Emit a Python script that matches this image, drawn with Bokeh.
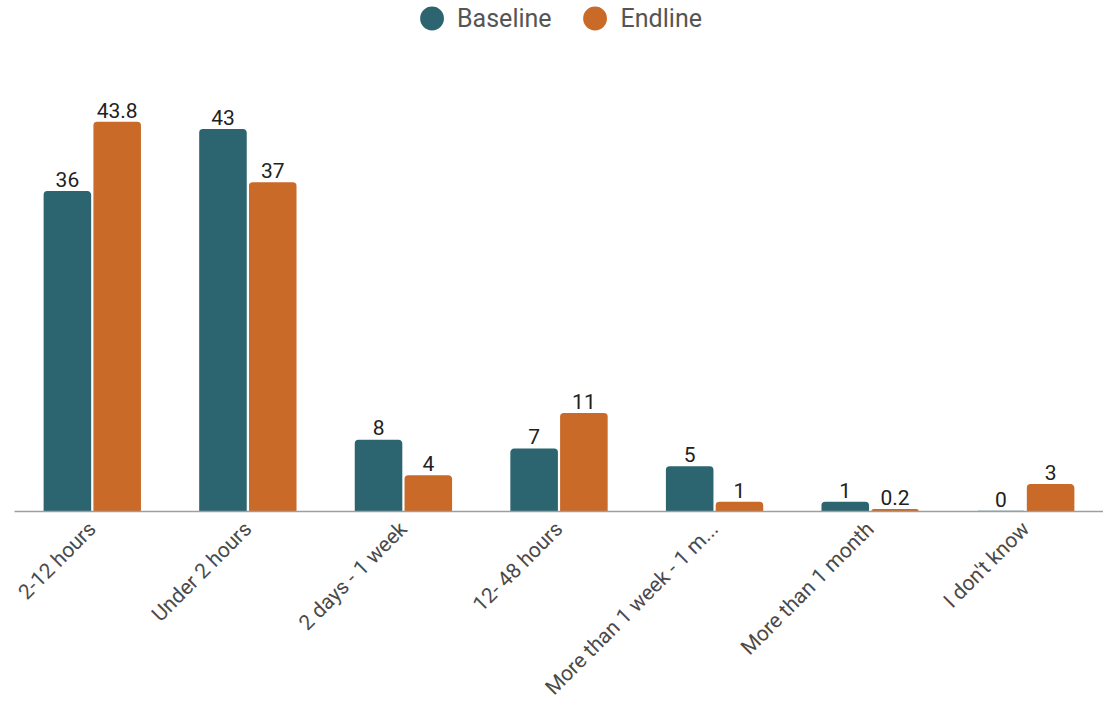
import math
from bokeh.plotting import figure
from bokeh.models import ColumnDataSource, FactorRange, Range1d, LabelSet, Legend, LegendItem
from bokeh.transform import dodge
from bokeh.core.properties import value
from bokeh.embed import file_html
from bokeh.resources import INLINE

categories = ["2-12 hours", "Under 2 hours", "2 days - 1 week", "12- 48 hours",
              "More than 1 week - 1 m...", "More than 1 month", "I don't know"]
baseline = [36, 43, 8, 7, 5, 1, 0]
endline = [43.8, 37, 4, 11, 1, 0.2, 3]
series_names = ["Baseline", "Endline"]

TEAL = "#2c6570"
ORANGE = "#c96a29"
FONT = "Roboto"

def fmt(v):
    return f"{v:g}"

source = ColumnDataSource(dict(
    cat=categories,
    base=baseline,
    end=endline,
    base_lbl=[fmt(v) for v in baseline],
    end_lbl=[fmt(v) for v in endline],
))

p = figure(frame_width=1089, frame_height=511, x_range=FactorRange(*categories),
           y_range=Range1d(0, 57.55), output_backend="svg",
           toolbar_location=None, y_axis_location=None,
           min_border_left=14, min_border_right=0, min_border_top=0,
           min_border_bottom=0)
# secondary range used only by the legend-swatch renderers (keeps their points off-frame)
p.extra_y_ranges = {"swatch": Range1d(1000, 1001)}

p.vbar(x=dodge("cat", -0.16, range=p.x_range), top="base", width=0.296,
       source=source, fill_color=TEAL, line_color=TEAL, line_width=1.5,
       border_radius=(3, 3, 0, 0))
p.vbar(x=dodge("cat", 0.16, range=p.x_range), top="end", width=0.296,
       source=source, fill_color=ORANGE, line_color=ORANGE, line_width=1.5,
       border_radius=(3, 3, 0, 0))

for col, lbl, off in (("base", "base_lbl", -0.16), ("end", "end_lbl", 0.16)):
    p.add_layout(LabelSet(x=dodge("cat", off, range=p.x_range), y=col, text=lbl,
                          source=source, y_offset=5, text_align="center",
                          text_baseline="bottom", text_font=value(FONT),
                          text_font_size=value("21px"), text_color="#212121"))

# legend swatches: circle renderers mapped to the off-frame range, visible only in the legend
r1 = p.circle(x="cat", y="base", source=source, y_range_name="swatch",
              radius=12, radius_units="screen",
              fill_color=TEAL, line_color=TEAL, line_width=11)
r2 = p.circle(x="cat", y="end", source=source, y_range_name="swatch",
              radius=12, radius_units="screen",
              fill_color=ORANGE, line_color=ORANGE, line_width=11)
legend = Legend(items=[LegendItem(label=series_names[0], renderers=[r1]),
                       LegendItem(label=series_names[1], renderers=[r2])],
                location="top_center", orientation="horizontal",
                glyph_width=32, glyph_height=32, label_standoff=10,
                spacing=27, margin=2, padding=0,
                label_text_font=FONT, label_text_font_size="25px",
                label_text_color="#555555",
                border_line_color=None, background_fill_alpha=0)
p.add_layout(legend)

p.xgrid.grid_line_color = None
p.ygrid.grid_line_color = None
p.outline_line_color = None
p.xaxis.axis_line_color = "#9e9e9e"
p.xaxis.axis_line_width = 1.5
p.xaxis.major_tick_line_color = None
p.xaxis.minor_tick_line_color = None
p.xaxis.major_label_orientation = math.pi / 4
p.xaxis.major_label_text_font = FONT
p.xaxis.major_label_text_font_size = "21px"
p.xaxis.major_label_text_color = "#4a4a4a"
p.xaxis.major_label_standoff = 8
p.x_range.range_padding = 0

open("out.html", "w").write(file_html(p, INLINE))
